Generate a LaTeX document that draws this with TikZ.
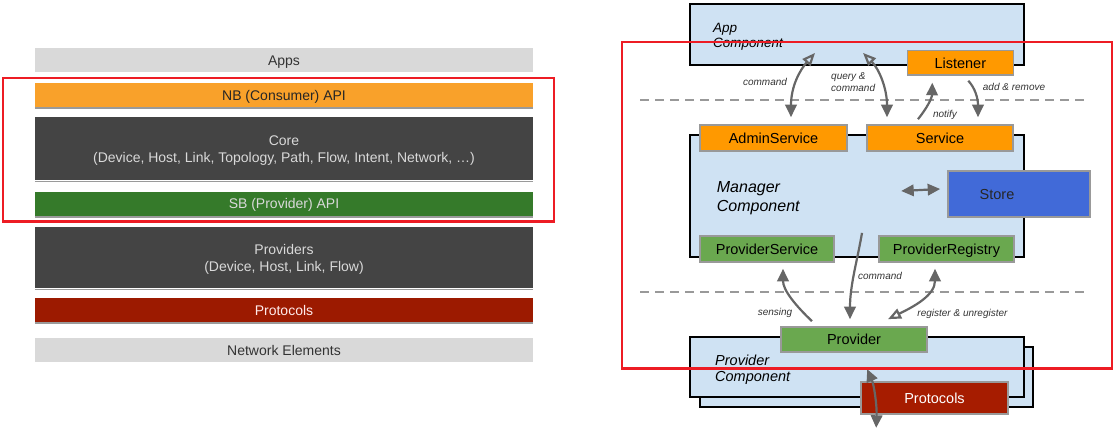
\documentclass[tikz,border=0pt]{standalone}
\usepackage{fontspec}
\setmainfont{Liberation Sans}
\usetikzlibrary{arrows.meta}
\definecolor{appsgray}{HTML}{D9D9D9}
\definecolor{nborange}{HTML}{F9A12A}
\definecolor{coregray}{HTML}{444444}
\definecolor{sbgreen}{HTML}{357A2A}
\definecolor{protred}{HTML}{9C1A00}
\definecolor{shadowgray}{HTML}{9A9A9A}
\definecolor{hlred}{HTML}{ED1C24}
\definecolor{compblue}{HTML}{CFE2F3}
\definecolor{svcorange}{HTML}{FF9900}
\definecolor{svcgreen}{HTML}{6AA84F}
\definecolor{storeblue}{HTML}{416AD8}
\definecolor{protred2}{HTML}{A61C00}
\definecolor{svcgray}{HTML}{999999}
\definecolor{arrgray}{HTML}{666666}
\definecolor{lblgray}{HTML}{333333}
\newcommand{\setfs}[2]{\fontsize{#1}{#2}\selectfont}
\tikzset{
  FT/.tip={Triangle[length=12.5pt,width=11.5pt]},
  OT/.tip={Triangle[open,length=13pt,width=10.5pt]},
  bar/.style={draw=none, minimum width=498pt, inner sep=0pt, align=center, text depth=0pt, font=\setfs{14}{17}},
  barshadow/.style={draw=shadowgray, line width=1.5pt},
  hlbox/.style={draw=hlred, line width=2.8pt},
  comp/.style={draw=black, line width=1.8pt, fill=compblue, inner sep=0pt},
  svc/.style={draw=svcgray, line width=1.6pt, inner sep=0pt, text depth=0pt, font=\setfs{14.5}{17}},
  conn/.style={draw=arrgray, line width=2.2pt},
  lbl/.style={inner sep=0pt, text=lblgray, font=\setfs{10}{12}\itshape},
  comptxt/.style={inner sep=0pt, anchor=base west, font=\itshape},
  sep/.style={draw=svcgray, line width=2pt, dash pattern=on 9pt off 6pt}
}
\begin{document}
\begin{tikzpicture}[x=1pt,y=-1pt]
\useasboundingbox (0,0) rectangle (1117,431);
% ---------------- left panel ----------------
\node[bar, fill=appsgray, minimum height=24pt, text=lblgray] (apps) at (284,60.3) {Apps};
\node[bar, fill=nborange, minimum height=23.4pt, text=black!85] (nb) at (284,95) {NB (Consumer) API};
\node[bar, fill=coregray, minimum height=62.7pt, text=appsgray] (core) at (284,148.7) {Core\\(Device, Host, Link, Topology, Path, Flow, Intent, Network, \dots)};
\node[bar, fill=sbgreen, minimum height=24.3pt, text=appsgray] (sb) at (284,203.8) {SB (Provider) API};
\node[bar, fill=coregray, minimum height=61.6pt, text=appsgray] (provs) at (284,257.5) {Providers\\(Device, Host, Link, Flow)};
\node[bar, fill=protred, minimum height=23.4pt, text=red!8] (protl) at (284,310) {Protocols};
\node[bar, fill=appsgray, minimum height=23.4pt, text=lblgray] (ne) at (284,350) {Network Elements};
\foreach \b in {nb,core,sb,provs,protl}
  \draw[barshadow] ([yshift=-1pt]\b.south west) -- ([yshift=-1pt]\b.south east);
% ---------------- right panel ----------------
\node[comp, minimum width=334pt, minimum height=61pt] (app) at (857,34.5) {};
\node[comptxt, font=\setfs{13.5}{15}\itshape] (apptxt1) at (713,32) {App};
\node[comptxt, font=\setfs{13.5}{15}\itshape] (apptxt2) at (713,47) {Component};
\node[svc, fill=svcorange, minimum width=106pt, minimum height=24.3pt] (listener) at (960.3,62.8) {Listener};

\node[comp, minimum width=334pt, minimum height=122pt] (mgr) at (857,196) {};
\node[comptxt, font=\setfs{16}{19}\itshape] (mgrtxt1) at (716.7,192.5) {Manager};
\node[comptxt, font=\setfs{16}{19}\itshape] (mgrtxt2) at (716.7,211.5) {Component};
\node[svc, fill=svcorange, minimum width=147pt, minimum height=26pt] (admin) at (773.5,138) {AdminService};
\node[svc, fill=svcorange, minimum width=146pt, minimum height=26pt] (service) at (940,138) {Service};
\node[svc, fill=storeblue, minimum width=142pt, minimum height=46pt] (store) at (1019,194) {};
\node[inner sep=0pt, text depth=0pt, font=\setfs{14.5}{17}, text=black!85] (storetxt) at (997,194) {Store};
\node[svc, fill=svcgreen, minimum width=134pt, minimum height=26pt] (pservice) at (767,249) {ProviderService};
\node[svc, fill=svcgreen, minimum width=135pt, minimum height=26pt] (pregistry) at (946.5,249) {ProviderRegistry};

\node[comp, minimum width=333pt, minimum height=60pt] (pcompback) at (866.5,377) {};
\node[comp, minimum width=334pt, minimum height=60pt] (pcomp) at (857,367) {};
\node[comptxt, font=\setfs{14.5}{17}\itshape] (pctxt1) at (715,365) {Provider};
\node[comptxt, font=\setfs{14.5}{17}\itshape] (pctxt2) at (715,381.7) {Component};
\node[svc, fill=svcgreen, minimum width=146pt, minimum height=25pt] (provider) at (854,339.5) {Provider};
\node[svc, fill=protred2, minimum width=147pt, minimum height=32pt, text=white] (protocols) at (934.5,398) {Protocols};

% separators
\draw[sep] (640,100) -- (1088,100);
\draw[sep] (640,292) -- (1088,292);

% connectors
\draw[conn, OT-FT] ([xshift=-42pt,yshift=13pt]app.south) .. controls (800,70) and (791,86) .. ([xshift=17.5pt,yshift=7pt]admin.north);
\draw[conn, OT-FT] ([xshift=6pt,yshift=13pt]app.south) .. controls (879,69) and (887,88) .. ([xshift=-53pt,yshift=7pt]service.north);
\draw[conn, -FT] ([xshift=-22pt,yshift=5pt]service.north) .. controls (927,108) and (932,98) .. ([xshift=-28pt,yshift=-7pt]listener.south);
\draw[conn, -FT] ([xshift=8pt,yshift=-5pt]listener.south) .. controls (975,88) and (978,98) .. ([xshift=38pt,yshift=7pt]service.north);
\draw[conn, FT-FT] ([xshift=-46pt,yshift=3pt]store.west) -- ([xshift=-7pt,yshift=5pt]store.west);
\draw[conn, -FT] ([xshift=5pt,yshift=25pt]mgr.south) .. controls (857,262) and (850,285) .. ([xshift=-4pt,yshift=7pt]provider.north);
\draw[conn, -FT] ([xshift=-42pt,yshift=5pt]provider.north) .. controls (795,305) and (783,290) .. ([xshift=16pt,yshift=-6pt]pservice.south);
\draw[conn, OT-FT] ([xshift=34pt,yshift=7pt]provider.north) .. controls (915,306) and (935,295) .. ([xshift=-11.5pt,yshift=-6pt]pregistry.south);
\draw[conn, FT-FT] ([xshift=7pt,yshift=12pt]protocols.north west) .. controls (874,385) and (877,405) .. ([xshift=16pt,yshift=-13pt]protocols.south west);

% labels
\node[lbl] (lcmd1) at (765,82) {command};
\node[lbl, anchor=west, align=left] (lquery) at (831,82) {query \&\\command};
\node[lbl] (lnotify) at (945,115) {notify};
\node[lbl] (laddrem) at (1014,87) {add \& remove};
\node[lbl] (lcmd2) at (880,276) {command};
\node[lbl] (lsense) at (775,313) {sensing};
\node[lbl] (lreg) at (962.5,314) {register \& unregister};

% highlight frames
\draw[hlbox] (3,78) rectangle (554,221.5);
\draw[hlbox] (622,42) rectangle (1112,368.5);
\end{tikzpicture}
\end{document}
